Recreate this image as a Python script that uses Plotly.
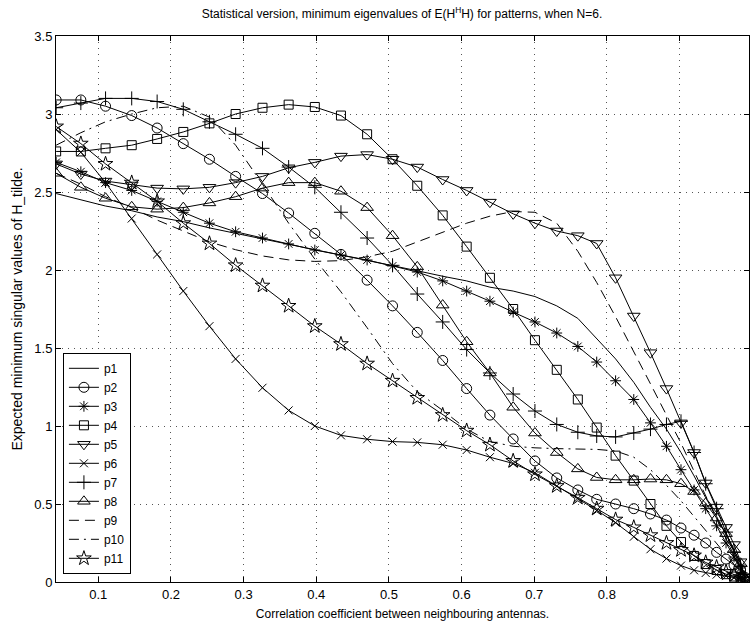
import plotly.graph_objects as go

x = [0.042, 0.076, 0.110, 0.146, 0.181, 0.217, 0.253, 0.289, 0.326, 0.362,
     0.398, 0.434, 0.470, 0.505, 0.539, 0.574, 0.607, 0.639, 0.671, 0.701,
     0.731, 0.760, 0.786, 0.812, 0.837, 0.860, 0.882, 0.902, 0.920, 0.936,
     0.951, 0.964, 0.975, 0.984, 0.990]

p1 = [2.49, 2.45, 2.41, 2.38, 2.34, 2.31, 2.27, 2.235, 2.20, 2.165, 2.13, 2.095, 2.06, 2.03, 1.995,
      1.96, 1.93, 1.89, 1.865, 1.83, 1.77, 1.69, 1.56, 1.43, 1.28, 1.12, 0.98, 0.83, 0.68, 0.54,
      0.42, 0.30, 0.20, 0.12, 0.03]
p2 = [3.09, 3.09, 3.05, 2.99, 2.91, 2.81, 2.71, 2.60, 2.49, 2.365, 2.235, 2.10, 1.935, 1.77, 1.60,
      1.42, 1.24, 1.07, 0.917, 0.776, 0.667, 0.59, 0.53, 0.50, 0.47, 0.436, 0.397, 0.346, 0.30, 0.25,
      0.19, 0.147, 0.109, 0.077, 0.03]
p3 = [2.69, 2.63, 2.56, 2.51, 2.44, 2.37, 2.30, 2.245, 2.205, 2.167, 2.128, 2.096, 2.064, 2.026, 1.987,
      1.93, 1.865, 1.80, 1.73, 1.667, 1.596, 1.51, 1.41, 1.29, 1.17, 1.02, 0.87, 0.72, 0.59, 0.47,
      0.36, 0.25, 0.16, 0.09, 0.03]
p4 = [2.76, 2.76, 2.78, 2.80, 2.84, 2.885, 2.94, 3.00, 3.04, 3.06, 3.045, 2.99, 2.87, 2.71, 2.54,
      2.35, 2.15, 1.95, 1.75, 1.55, 1.36, 1.17, 0.99, 0.81, 0.65, 0.50, 0.36, 0.256, 0.167, 0.115,
      0.077, 0.05, 0.035, 0.025, 0.02]
p5 = [2.68, 2.615, 2.57, 2.545, 2.525, 2.52, 2.53, 2.56, 2.60, 2.655, 2.69, 2.73, 2.74, 2.71, 2.66,
      2.58, 2.51, 2.435, 2.36, 2.30, 2.25, 2.22, 2.17, 1.95, 1.705, 1.47, 1.24, 1.02, 0.83, 0.635,
      0.48, 0.35, 0.24, 0.13, 0.03]
p6 = [2.90, 2.755, 2.56, 2.33, 2.10, 1.865, 1.64, 1.43, 1.245, 1.10, 1.00, 0.94, 0.915, 0.90, 0.895,
      0.88, 0.846, 0.80, 0.76, 0.70, 0.615, 0.535, 0.46, 0.38, 0.29, 0.21, 0.15, 0.105, 0.075, 0.058,
      0.047, 0.038, 0.028, 0.02, 0.015]
p7 = [3.04, 3.07, 3.10, 3.10, 3.08, 3.03, 2.95, 2.87, 2.78, 2.66, 2.53, 2.37, 2.205, 2.03, 1.846,
      1.667, 1.49, 1.34, 1.205, 1.096, 1.01, 0.96, 0.936, 0.93, 0.955, 0.98, 1.01, 1.03, 0.83, 0.63,
      0.47, 0.32, 0.19, 0.10, 0.03]
p8 = [2.62, 2.53, 2.46, 2.405, 2.39, 2.40, 2.43, 2.47, 2.525, 2.56, 2.56, 2.505, 2.40, 2.22, 2.02,
      1.775, 1.54, 1.34, 1.12, 0.955, 0.83, 0.725, 0.67, 0.655, 0.655, 0.66, 0.655, 0.63, 0.58, 0.505,
      0.41, 0.31, 0.21, 0.12, 0.03]
p9 = [2.62, 2.55, 2.47, 2.40, 2.32, 2.25, 2.18, 2.13, 2.09, 2.065, 2.055, 2.06, 2.085, 2.12, 2.18,
      2.24, 2.30, 2.345, 2.375, 2.37, 2.30, 2.12, 1.92, 1.70, 1.48, 1.27, 1.07, 0.89, 0.71, 0.55,
      0.41, 0.28, 0.17, 0.09, 0.03]
p10 = [2.80, 2.88, 2.95, 3.00, 3.04, 3.05, 2.98, 2.80, 2.55, 2.30, 2.07, 1.86, 1.63, 1.40, 1.22,
       1.10, 0.98, 0.90, 0.87, 0.86, 0.855, 0.85, 0.85, 0.84, 0.80, 0.72, 0.62, 0.52, 0.42, 0.33,
       0.25, 0.18, 0.12, 0.07, 0.03]
p11 = [2.92, 2.81, 2.68, 2.56, 2.44, 2.30, 2.17, 2.03, 1.90, 1.77, 1.64, 1.525, 1.40, 1.29, 1.18,
       1.07, 0.97, 0.88, 0.776, 0.69, 0.615, 0.54, 0.47, 0.40, 0.35, 0.30, 0.25, 0.205, 0.17, 0.125,
       0.095, 0.065, 0.045, 0.03, 0.02]

series = [
    ("p1", p1, None, "solid", 0),
    ("p2", p2, "circle-open", "solid", 10),
    ("p3", p3, "asterisk-open", "solid", 9),
    ("p4", p4, "square-open", "solid", 9),
    ("p5", p5, "triangle-down-open", "solid", 11),
    ("p6", p6, "x-thin-open", "solid", 8),
    ("p7", p7, "cross-thin-open", "solid", 10),
    ("p8", p8, "triangle-up-open", "solid", 11),
    ("p9", p9, None, "10px,6px", 0),
    ("p10", p10, None, "10px,5px,2px,5px", 0),
    ("p11", p11, "star-open", "solid", 11),
]

fig = go.Figure()
for name, ys, sym, dash, sz in series:
    if sym:
        fig.add_trace(go.Scatter(
            x=x, y=ys, name=name, mode="lines+markers",
            line=dict(color="black", width=1, dash=dash),
            marker=dict(symbol=sym, size=sz, color="black",
                        line=dict(color="black", width=1)),
        ))
    else:
        fig.add_trace(go.Scatter(
            x=x, y=ys, name=name, mode="lines",
            line=dict(color="black", width=1, dash=dash),
        ))

font = "Liberation Sans, Arial, Helvetica, sans-serif"
axis_common = dict(
    showline=True, linecolor="black", linewidth=1, mirror="ticks",
    ticks="inside", ticklen=5, tickcolor="black",
    showgrid=True, gridcolor="#555", griddash="1px,5px", gridwidth=1,
    zeroline=False, tickfont=dict(family=font, size=13, color="black"),
)

fig.update_layout(
    width=750, height=627,
    margin=dict(l=56, r=1, t=36, b=45),
    paper_bgcolor="white", plot_bgcolor="white",
    font=dict(family=font, size=12, color="black"),
    title=dict(
        text="Statistical version, minimum eigenvalues of E(H<sup>H</sup>H) for patterns, when N=6.",
        x=0.536, xanchor="center", y=0.985, yanchor="top",
        font=dict(family=font, size=12, color="black"),
    ),
    xaxis=dict(range=[0.0418, 0.9956], tickvals=[0.1, 0.2, 0.3, 0.4, 0.5, 0.6, 0.7, 0.8, 0.9],
               ticktext=["0.1", "0.2", "0.3", "0.4", "0.5", "0.6", "0.7", "0.8", "0.9"],
               title=dict(text="Correlation coefficient between neighbouring antennas.",
                          font=dict(family=font, size=12), standoff=9),
               **axis_common),
    yaxis=dict(range=[0, 3.5], tickvals=[0, 0.5, 1, 1.5, 2, 2.5, 3, 3.5],
               ticktext=["0", "0.5", "1", "1.5", "2", "2.5", "3", "3.5"],
               title=dict(text="Expected minimum singular values of H_tilde.",
                          font=dict(family=font, size=14), standoff=8),
               **axis_common),
    legend=dict(x=0.01, y=0.015, xanchor="left", yanchor="bottom",
                bordercolor="black", borderwidth=1, bgcolor="white",
                font=dict(family=font, size=12, color="black"),
                tracegroupgap=0, itemwidth=30),
    showlegend=True,
)

fig.write_html("out.html")
